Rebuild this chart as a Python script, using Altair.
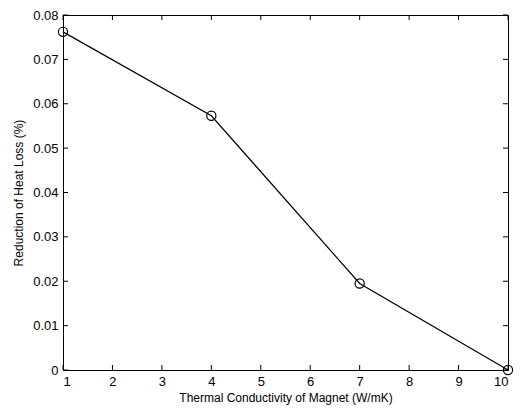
import altair as alt
import pandas as pd

conductivity = [1, 4, 7, 10]
reduction = [0.0762, 0.0573, 0.0195, 0.0]
x_ticks = [1, 2, 3, 4, 5, 6, 7, 8, 9, 10]
y_ticks = [0, 0.01, 0.02, 0.03, 0.04, 0.05, 0.06, 0.07, 0.08]

W, H = 445, 355
FONT = "Liberation Sans"
XT = "Thermal Conductivity of Magnet (W/mK)"
YT = "Reduction of Heat Loss (%)"

df = pd.DataFrame({"k": conductivity, "r": reduction})
xt = pd.DataFrame({"k": x_ticks})
yt = pd.DataFrame({"r": y_ticks})

xs = alt.Scale(domain=[1, 10], nice=False, zero=False)
ys = alt.Scale(domain=[0, 0.08], nice=False, zero=False)

xaxis = alt.Axis(values=x_ticks, tickSize=0, labelPadding=5, grid=False,
                 domainColor="black", labelColor="black", titleColor="black",
                 labelFont=FONT, titleFont=FONT, labelFontSize=13, titleFontSize=12,
                 titleFontWeight="normal", titlePadding=4)
yaxis = alt.Axis(values=y_ticks, tickSize=0, labelPadding=5, grid=False,
                 domainColor="black", labelColor="black", titleColor="black",
                 labelFont=FONT, titleFont=FONT, labelFontSize=13, titleFontSize=12,
                 titleFontWeight="normal", titlePadding=7,
                 labelExpr="datum.value == 0 ? '0' : format(datum.value, '.2f')")

X = alt.X("k:Q", scale=xs, title=XT, axis=xaxis)
Y = alt.Y("r:Q", scale=ys, title=YT, axis=yaxis)

base = alt.Chart(df)

line = base.mark_line(color="black", strokeWidth=1.2).encode(x=X, y=Y)

pts = base.mark_point(shape="circle", filled=False, color="black", size=85,
                      strokeWidth=1.2, opacity=1).encode(x=X, y=Y)

tb = alt.Chart(xt).mark_rule(color="black", strokeWidth=1).encode(
    x=X, y=alt.value(H), y2=alt.value(H - 5))
tt = alt.Chart(xt).mark_rule(color="black", strokeWidth=1).encode(
    x=X, y=alt.value(0), y2=alt.value(5))
tl = alt.Chart(yt).mark_rule(color="black", strokeWidth=1).encode(
    y=Y, x=alt.value(0), x2=alt.value(5))
tr = alt.Chart(yt).mark_rule(color="black", strokeWidth=1).encode(
    y=Y, x=alt.value(W), x2=alt.value(W - 5))

chart = alt.layer(line, pts, tb, tt, tl, tr).properties(
    width=W, height=H,
    autosize=alt.AutoSizeParams(type="none"),
    padding={"left": 55, "top": 7, "right": 10, "bottom": 36},
    background="white",
).configure_view(stroke="black", strokeWidth=1)

chart.save("out.html", embed_options={"renderer": "svg", "actions": False})
